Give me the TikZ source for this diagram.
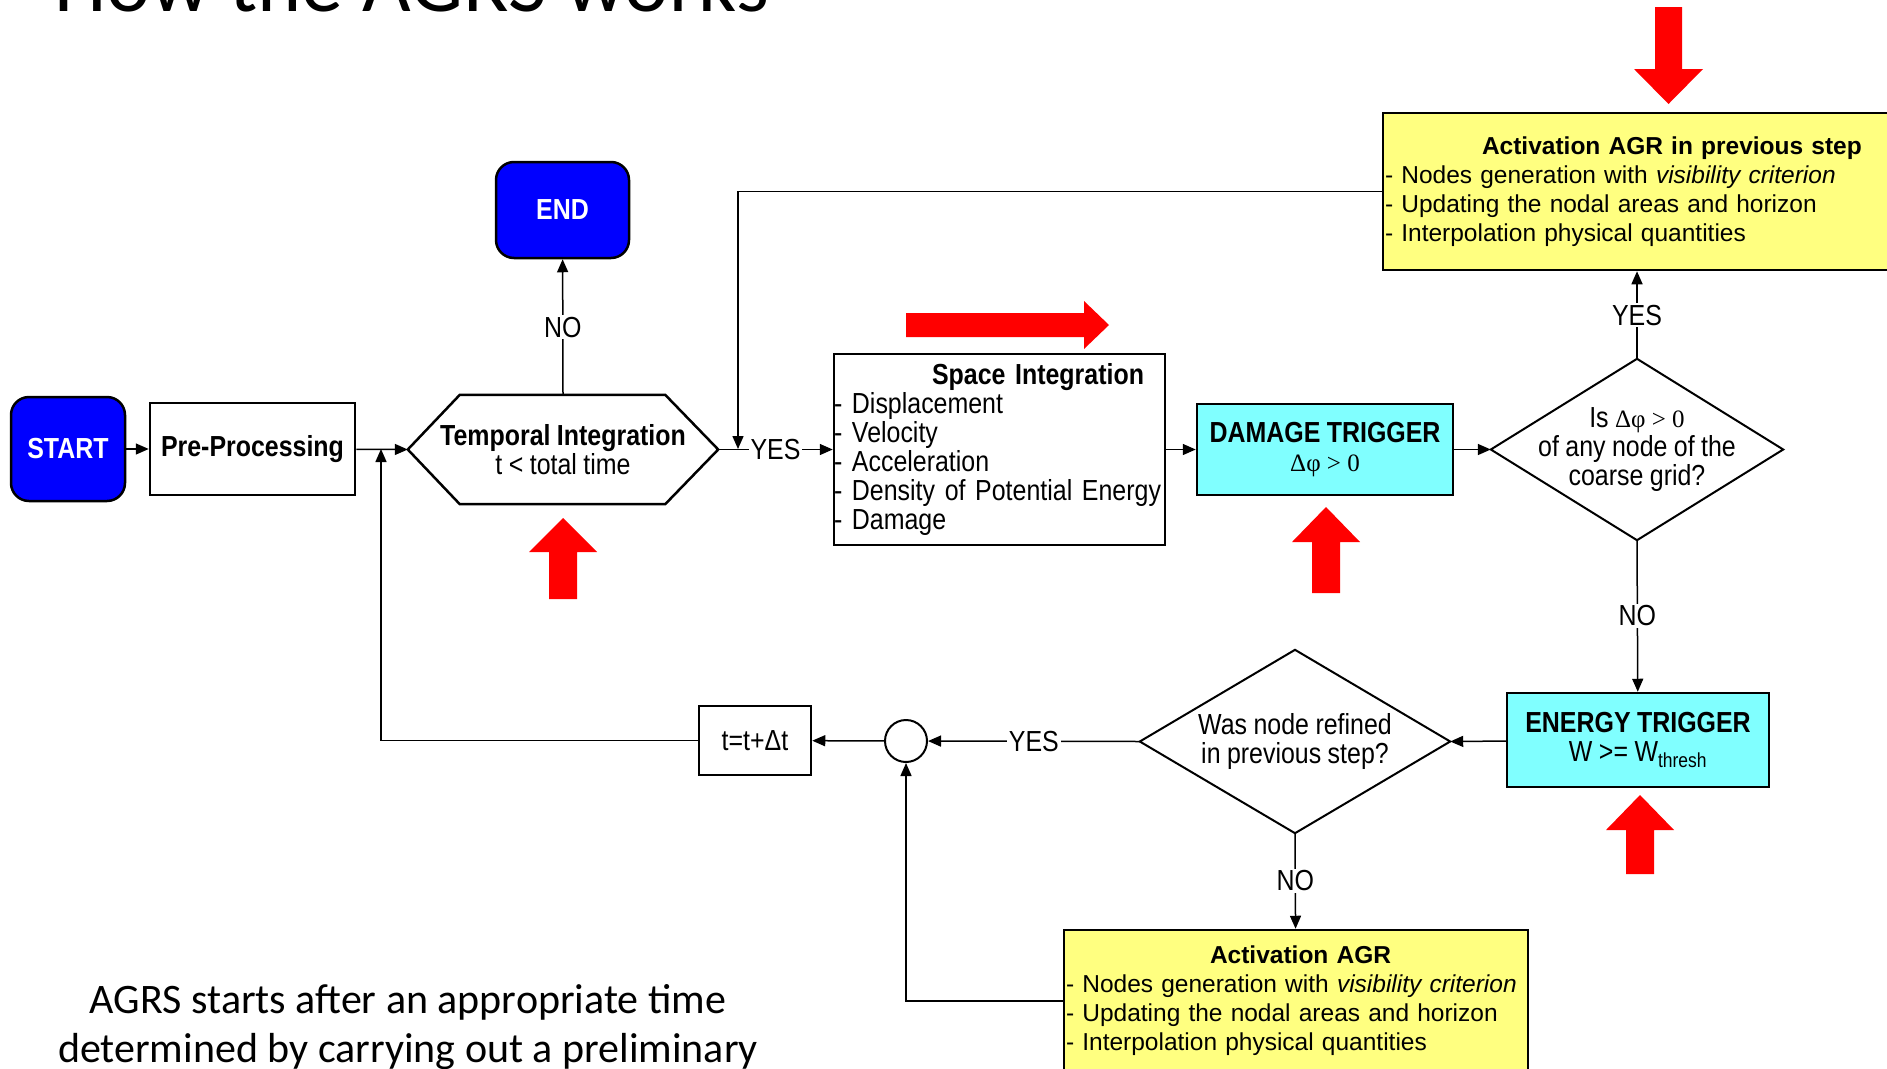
\documentclass[tikz,border=0pt]{standalone}
\usepackage{fontspec}
\setmainfont{Liberation Sans}
\newfontfamily\flowfont[FakeStretch=0.86,WordSpace=0.93]{Liberation Sans}
\newfontfamily\calibrifont{Carlito}
\newfontfamily\symfont{Liberation Serif}
\usetikzlibrary{arrows.meta,calc}
\definecolor{termblue}{RGB}{0,0,255}
\definecolor{trigcyan}{RGB}{128,255,255}
\definecolor{agryellow}{RGB}{255,255,128}
\definecolor{hintred}{RGB}{255,0,0}
\begin{document}
\begin{tikzpicture}[
x=1pt,y=-1pt,
>={Triangle[length=13pt,width=11pt]},
every node/.style={font=\flowfont\fontsize{29}{29}\selectfont},
term/.style={rectangle,rounded corners=18pt,draw,line width=2.5pt,fill=termblue,text=white,font=\flowfont\fontsize{29}{29}\selectfont\bfseries},
block/.style={rectangle,draw,line width=2.5pt,inner sep=4pt,align=left},
trigger/.style={rectangle,draw,line width=2.5pt,fill=trigcyan,align=center},
agr/.style={rectangle,draw,line width=2.5pt,fill=agryellow,align=left,inner xsep=2pt,font=\fontsize{24.5}{29}\selectfont},
flow/.style={line width=1.5pt},
answer/.style={fill=white,inner sep=2pt}
]
\useasboundingbox (0,0) rectangle (1887,1068);
\clip (0,0) rectangle (1887,1068);

\node[anchor=base west,inner sep=0,font=\calibrifont\fontsize{84}{90}\selectfont] (title) at (54,12) {How the AGRS works};
\node[anchor=base,inner sep=0,align=center,font=\calibrifont\fontsize{42}{49}\selectfont] (note) at (408,1062) {AGRS starts after an appropriate time\\determined by carrying out a preliminary};

\node[term,minimum width=114pt,minimum height=104pt] (start) at (68,449) {START};
\node[block,minimum width=205pt,minimum height=92pt,font=\flowfont\fontsize{29}{29}\selectfont\bfseries] (pre) at (252.5,449) {Pre-Processing};
\node[minimum width=310pt,minimum height=109pt,inner sep=0,align=center] (temp) at (563,449.5) {\textbf{Temporal Integration}\\t < total time};
\draw[line width=2.5pt] (temp.west) -- ($(temp.north west)+(52,0)$) -- ($(temp.north east)+(-53,0)$) -- (temp.east) -- ($(temp.south east)+(-53,0)$) -- ($(temp.south west)+(52,0)$) -- cycle;
\node[term,minimum width=133pt,minimum height=96pt] (end) at (562.5,210) {END};
\node[block,inner xsep=0pt,text width=331pt,minimum height=191pt] (space) at (999.5,449.5) {\hfill\textbf{Space Integration}\hspace*{21pt}\null\\- Displacement\\- Velocity\\- Acceleration\\- Density of Potential Energy\\- Damage};
\node[trigger,minimum width=256pt,minimum height=91pt] (damage) at (1325,449.5) {\textbf{DAMAGE TRIGGER}\\{\symfont\fontsize{25}{29}\selectfont Δφ > 0}};
\node[minimum width=292pt,minimum height=181pt,inner sep=0,align=center] (refine) at (1637,449.5) {Is {\symfont\fontsize{25}{29}\selectfont Δφ > 0}\\of any node of the\\coarse grid?};
\draw[line width=2pt] (refine.north) -- (refine.east) -- (refine.south) -- (refine.west) -- cycle;
\node[agr,text width=573pt,minimum height=157pt] (prev) at (1671.5,191.5) {\hspace*{97pt}\textbf{Activation AGR in previous step}\\- Nodes generation with \textit{visibility criterion}\\- Updating the nodal areas and horizon\\- Interpolation physical quantities};
\node[trigger,minimum width=262pt,minimum height=94pt] (energy) at (1638,740) {\textbf{ENERGY TRIGGER}\\W >= W\textsubscript{thresh}};
\node[minimum width=310pt,minimum height=183pt,inner sep=0,align=center] (was) at (1295,741.5) {Was node refined\\in previous step?};
\draw[line width=2pt] (was.north) -- (was.east) -- (was.south) -- (was.west) -- cycle;
\node[circle,draw,line width=2pt,minimum size=42pt,inner sep=0] (merge) at (906,741) {};
\node[block,minimum width=112pt,minimum height=69pt] (tstep) at (755,740.5) {t=t+Δt};
\node[agr,text width=460pt,minimum height=142pt] (act) at (1296,1001) {\hspace*{144pt}\textbf{Activation AGR}\\- Nodes generation with \textit{visibility criterion}\\- Updating the nodal areas and horizon\\- Interpolation physical quantities};

\coordinate (j1) at (738,449);
\coordinate (j2) at (381,449);

\draw[flow,->] (start) -- (pre);
\draw[flow,->] (pre) -- (temp.west);
\draw[flow,->] (temp.north) -- node[answer] {NO} (end);
\draw[flow,->] (temp.east) -- node[answer,pos=0.5] {YES} (space);
\draw[flow,->] (prev.west) -| (j1);
\draw[flow,->] (space) -- (damage);
\draw[flow,->] (damage) -- (refine.west);
\draw[flow,->] (refine.north) -- node[answer] {YES} (refine.north |- prev.south);
\draw[flow,->] (refine.south) -- node[answer] {NO} (energy);
\draw[flow,->] (energy) -- (was.east);
\draw[flow,->] (was.west) -- node[answer] {YES} (merge);
\draw[flow,->] (merge) -- (tstep);
\draw[flow,->] (tstep.west) -| (j2);
\draw[flow,->] (was.south) -- node[answer] {NO} (act);
\draw[flow,->] (act.west) -| (merge.south);

\fill[hintred] (563,518) -- (597,552) -- (577,552) -- (577,599) -- (549,599) -- (549,552) -- (529,552) -- cycle;
\fill[hintred] (1326,507) -- (1360,542) -- (1340,542) -- (1340,593) -- (1312,593) -- (1312,542) -- (1292,542) -- cycle;
\fill[hintred] (1640,795) -- (1674,830) -- (1654,830) -- (1654,874) -- (1626,874) -- (1626,830) -- (1606,830) -- cycle;
\fill[hintred] (1668.5,104) -- (1703,69) -- (1682,69) -- (1682,7) -- (1655,7) -- (1655,69) -- (1634,69) -- cycle;
\fill[hintred] (1109,325) -- (1084,349) -- (1084,337) -- (906,337) -- (906,313) -- (1084,313) -- (1084,301) -- cycle;
\end{tikzpicture}
\end{document}
